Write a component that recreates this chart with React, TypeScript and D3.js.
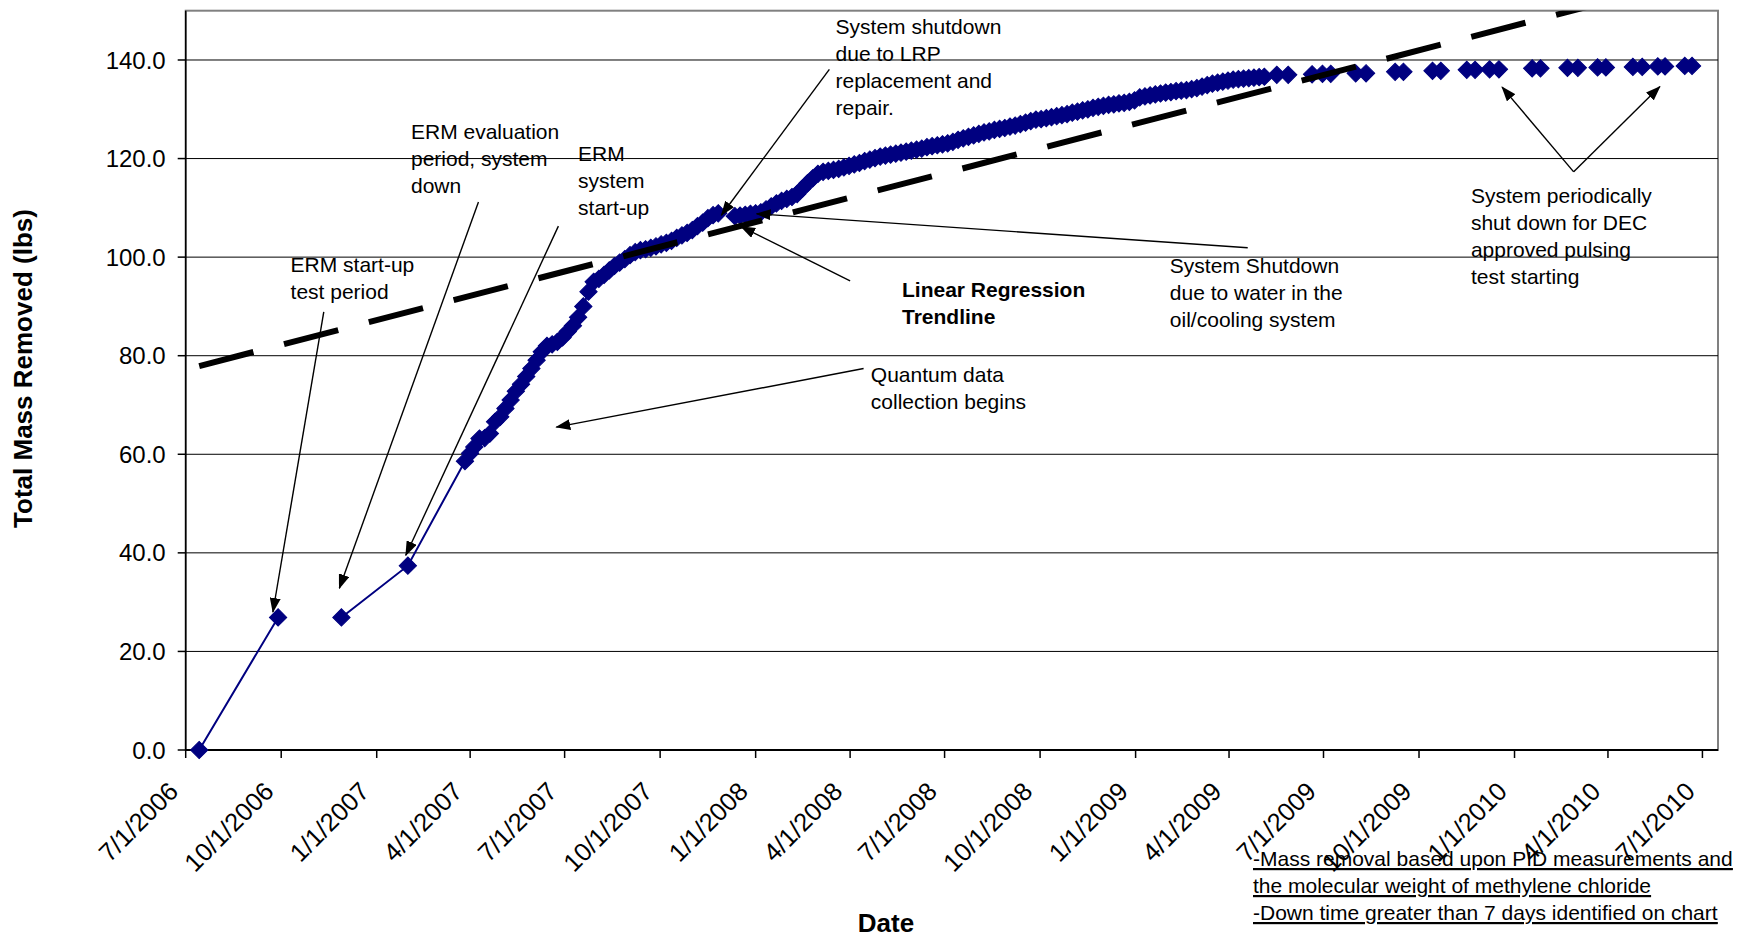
import React from "react";
import * as d3 from "d3";

const WIDTH = 1746;
const HEIGHT = 940;

// Cumulative mass removed (lbs); null = system down (gap in the series)
const massSamples: [string, number | null][] = [
  ["2006-07-14", 0.0],
  ["2006-09-28", 26.9],
  ["2006-10-28", null],
  ["2006-11-28", 26.9],
  ["2007-01-31", 37.4],
  ["2007-03-27", 58.6],
  ["2007-04-01", 60.2],
  ["2007-04-05", 61.5],
  ["2007-04-10", 63.2],
  ["2007-04-15", 63.3],
  ["2007-04-20", 64.2],
  ["2007-04-25", 66.6],
  ["2007-04-30", 67.6],
  ["2007-05-05", 69.3],
  ["2007-05-10", 71.0],
  ["2007-05-15", 72.8],
  ["2007-05-20", 74.2],
  ["2007-05-25", 75.8],
  ["2007-05-30", 77.4],
  ["2007-06-04", 79.1],
  ["2007-06-09", 80.8],
  ["2007-06-14", 82.0],
  ["2007-06-19", 82.3],
  ["2007-06-24", 82.8],
  ["2007-06-29", 83.7],
  ["2007-07-04", 84.9],
  ["2007-07-09", 86.1],
  ["2007-07-14", 87.8],
  ["2007-07-19", 90.0],
  ["2007-07-24", 93.0],
  ["2007-07-29", 95.0],
  ["2007-08-03", 95.6],
  ["2007-08-08", 96.4],
  ["2007-08-13", 97.3],
  ["2007-08-18", 98.2],
  ["2007-08-23", 98.9],
  ["2007-08-28", 99.6],
  ["2007-09-02", 100.4],
  ["2007-09-07", 101.0],
  ["2007-09-12", 101.4],
  ["2007-09-17", 101.6],
  ["2007-09-22", 101.9],
  ["2007-09-27", 102.2],
  ["2007-10-02", 102.6],
  ["2007-10-07", 102.9],
  ["2007-10-12", 103.3],
  ["2007-10-17", 103.9],
  ["2007-10-22", 104.4],
  ["2007-10-27", 104.9],
  ["2007-11-01", 105.5],
  ["2007-11-06", 106.3],
  ["2007-11-11", 107.0],
  ["2007-11-16", 107.9],
  ["2007-11-21", 108.5],
  ["2007-11-26", 108.9],
  ["2007-12-04", null],
  ["2007-12-12", 108.3],
  ["2007-12-17", 108.4],
  ["2007-12-22", 108.6],
  ["2007-12-27", 108.8],
  ["2008-01-01", 108.9],
  ["2008-01-06", 109.1],
  ["2008-01-11", 109.7],
  ["2008-01-16", 110.3],
  ["2008-01-21", 110.9],
  ["2008-01-26", 111.4],
  ["2008-01-31", 111.8],
  ["2008-02-05", 112.2],
  ["2008-02-10", 112.8],
  ["2008-02-15", 113.9],
  ["2008-02-20", 115.0],
  ["2008-02-25", 116.0],
  ["2008-03-01", 116.9],
  ["2008-03-06", 117.3],
  ["2008-03-11", 117.5],
  ["2008-03-16", 117.7],
  ["2008-03-21", 117.9],
  ["2008-03-26", 118.2],
  ["2008-03-31", 118.5],
  ["2008-04-05", 118.8],
  ["2008-04-10", 119.1],
  ["2008-04-15", 119.5],
  ["2008-04-20", 119.8],
  ["2008-04-25", 120.1],
  ["2008-04-30", 120.4],
  ["2008-05-05", 120.6],
  ["2008-05-10", 120.8],
  ["2008-05-15", 121.0],
  ["2008-05-20", 121.2],
  ["2008-05-25", 121.4],
  ["2008-05-30", 121.6],
  ["2008-06-04", 121.8],
  ["2008-06-09", 122.0],
  ["2008-06-14", 122.3],
  ["2008-06-19", 122.5],
  ["2008-06-24", 122.7],
  ["2008-06-29", 122.9],
  ["2008-07-04", 123.1],
  ["2008-07-09", 123.4],
  ["2008-07-14", 123.8],
  ["2008-07-19", 124.1],
  ["2008-07-24", 124.4],
  ["2008-07-29", 124.7],
  ["2008-08-03", 125.0],
  ["2008-08-08", 125.3],
  ["2008-08-13", 125.5],
  ["2008-08-18", 125.8],
  ["2008-08-23", 126.0],
  ["2008-08-28", 126.2],
  ["2008-09-02", 126.5],
  ["2008-09-07", 126.7],
  ["2008-09-12", 127.0],
  ["2008-09-17", 127.3],
  ["2008-09-22", 127.6],
  ["2008-09-27", 127.9],
  ["2008-10-02", 128.0],
  ["2008-10-07", 128.2],
  ["2008-10-12", 128.4],
  ["2008-10-17", 128.6],
  ["2008-10-22", 128.8],
  ["2008-10-27", 129.0],
  ["2008-11-01", 129.3],
  ["2008-11-06", 129.5],
  ["2008-11-11", 129.8],
  ["2008-11-16", 130.0],
  ["2008-11-21", 130.3],
  ["2008-11-26", 130.5],
  ["2008-12-01", 130.7],
  ["2008-12-06", 130.9],
  ["2008-12-11", 131.0],
  ["2008-12-16", 131.2],
  ["2008-12-21", 131.3],
  ["2008-12-26", 131.5],
  ["2008-12-31", 131.8],
  ["2009-01-05", 132.4],
  ["2009-01-10", 132.6],
  ["2009-01-15", 132.8],
  ["2009-01-20", 133.0],
  ["2009-01-25", 133.2],
  ["2009-01-30", 133.4],
  ["2009-02-04", 133.5],
  ["2009-02-09", 133.7],
  ["2009-02-14", 133.8],
  ["2009-02-19", 133.9],
  ["2009-02-24", 134.1],
  ["2009-03-01", 134.3],
  ["2009-03-06", 134.6],
  ["2009-03-11", 134.9],
  ["2009-03-16", 135.2],
  ["2009-03-21", 135.4],
  ["2009-03-26", 135.6],
  ["2009-03-31", 135.8],
  ["2009-04-05", 136.0],
  ["2009-04-10", 136.1],
  ["2009-04-15", 136.2],
  ["2009-04-20", 136.3],
  ["2009-04-25", 136.4],
  ["2009-04-30", 136.5],
  ["2009-05-05", 136.6],
  ["2009-05-11", null],
  ["2009-05-17", 137.0],
  ["2009-05-28", 137.0],
  ["2009-06-10", null],
  ["2009-06-20", 137.1],
  ["2009-06-30", 137.2],
  ["2009-07-08", 137.2],
  ["2009-07-20", null],
  ["2009-08-01", 137.3],
  ["2009-08-11", 137.3],
  ["2009-08-25", null],
  ["2009-09-08", 137.6],
  ["2009-09-16", 137.6],
  ["2009-09-30", null],
  ["2009-10-14", 137.8],
  ["2009-10-22", 137.8],
  ["2009-11-05", null],
  ["2009-11-16", 138.0],
  ["2009-11-24", 138.0],
  ["2009-12-01", null],
  ["2009-12-08", 138.1],
  ["2009-12-17", 138.1],
  ["2010-01-02", null],
  ["2010-01-18", 138.3],
  ["2010-01-26", 138.3],
  ["2010-02-08", null],
  ["2010-02-21", 138.4],
  ["2010-03-03", 138.4],
  ["2010-03-12", null],
  ["2010-03-22", 138.5],
  ["2010-03-30", 138.5],
  ["2010-04-12", null],
  ["2010-04-25", 138.6],
  ["2010-05-04", 138.6],
  ["2010-05-12", null],
  ["2010-05-19", 138.7],
  ["2010-05-26", 138.7],
  ["2010-06-05", null],
  ["2010-06-14", 138.8],
  ["2010-06-21", 138.8],
];

// Linear regression trendline end points
const trendDates = ["2006-07-14", "2010-06-21"];
const trendValues = [77.9, 156.3];

const xDomainLabels = ["7/1/2006", "7/16/2010"];
const xTickLabels = [
  "7/1/2006", "10/1/2006", "1/1/2007", "4/1/2007", "7/1/2007", "10/1/2007",
  "1/1/2008", "4/1/2008", "7/1/2008", "10/1/2008", "1/1/2009", "4/1/2009",
  "7/1/2009", "10/1/2009", "1/1/2010", "4/1/2010", "7/1/2010",
];
const yDomain = [0, 150];
const yTickValues = [0, 20, 40, 60, 80, 100, 120, 140];

type Pt = [string, number];
type Annotation = { lines: string[]; bold?: boolean; at: Pt; arrows: { from: Pt; to: Pt }[] };

const annotations: Annotation[] = [
  { lines: ["ERM start-up", "test period"], at: ["2006-10-10", 97.0],
    arrows: [{ from: ["2006-11-11", 88.9], to: ["2006-09-23", 28.0] }] },
  { lines: ["ERM evaluation", "period, system", "down"], at: ["2007-02-03", 123.9],
    arrows: [{ from: ["2007-04-09", 111.2], to: ["2006-11-26", 32.8] }] },
  { lines: ["ERM", "system", "start-up"], at: ["2007-07-14", 119.6],
    arrows: [{ from: ["2007-06-25", 106.3], to: ["2007-01-29", 39.5] }] },
  { lines: ["System shutdown", "due to LRP", "replacement and", "repair."], at: ["2008-03-18", 145.3],
    arrows: [{ from: ["2008-03-12", 138.1], to: ["2007-11-29", 108.5] }] },
  { lines: ["Linear Regression", "Trendline"], bold: true, at: ["2008-05-21", 92.0],
    arrows: [{ from: ["2008-04-01", 95.2], to: ["2007-12-18", 106.2] }] },
  { lines: ["System Shutdown", "due to water in the", "oil/cooling system"], at: ["2009-02-03", 96.7],
    arrows: [{ from: ["2009-04-19", 101.9], to: ["2008-01-02", 108.8] }] },
  { lines: ["Quantum data", "collection begins"], at: ["2008-04-21", 74.7],
    arrows: [{ from: ["2008-04-14", 77.4], to: ["2007-06-23", 65.5] }] },
  { lines: ["System periodically", "shut down for DEC", "approved pulsing", "test starting"], at: ["2009-11-20", 111.0],
    arrows: [
      { from: ["2010-02-27", 117.3], to: ["2009-12-20", 134.5] },
      { from: ["2010-02-27", 117.3], to: ["2010-05-21", 134.6] },
    ] },
];

const footnoteLines = [
  "-Mass removal based upon PID measurements and",
  "the molecular weight of methylene chloride",
  "-Down time greater than 7 days identified on chart",
];

const FONT = "'Liberation Sans', Arial, Helvetica, sans-serif";
const NAVY = "#000080";

export default function App() {
  const parseIso = d3.utcParse("%Y-%m-%d");
  const parseUs = d3.utcParse("%m/%d/%Y");

  const left = 185.7, right = 1718, top = 10.7, bottom = 750;

  const x = d3.scaleUtc().domain(xDomainLabels.map((s) => parseUs(s) as Date)).range([left, right]);
  const y = d3.scaleLinear().domain(yDomain).range([bottom, top]);

  const pts = massSamples.map(([d, v]) => ({ date: parseIso(d) as Date, v }));
  const line = d3
    .line<{ date: Date; v: number | null }>()
    .defined((p) => p.v !== null)
    .x((p) => x(p.date))
    .y((p) => y(p.v as number));

  const trendPts = trendDates.map((d, i) => ({ date: parseIso(d) as Date, v: trendValues[i] as number | null }));

  const diamond = d3.symbol().type(d3.symbolSquare).size(150)() as string;
  const fmtY = d3.format(".1f");
  const P = (p: Pt) => [x(parseIso(p[0]) as Date), y(p[1])];

  return (
    <svg width={WIDTH} height={HEIGHT} style={{ position: "absolute", left: 0, top: 0, display: "block", background: "#fff" }} fontFamily={FONT}>
      <defs>
        <clipPath id="plotClip">
          <rect x={left} y={top} width={right - left} height={bottom - top} />
        </clipPath>
        <marker id="arrowHead" viewBox="0 0 15 11" refX="14" refY="5.5" markerWidth="15" markerHeight="11" markerUnits="userSpaceOnUse" orient="auto">
          <path d="M0,0 L15,5.5 L0,11 z" fill="#000" />
        </marker>
      </defs>
      <rect x={0} y={0} width={WIDTH} height={HEIGHT} fill="#fff" />
      {/* plot frame */}
      <rect x={left} y={top} width={right - left} height={bottom - top} fill="#fff" stroke="#808080" strokeWidth={2} />
      {/* gridlines */}
      {yTickValues.filter((v) => v > 0).map((v) => (
        <line key={"g" + v} x1={left} x2={right} y1={y(v)} y2={y(v)} stroke="#000" strokeWidth={1} />
      ))}
      {/* axes */}
      <line x1={left} x2={left} y1={top} y2={bottom} stroke="#000" strokeWidth={1.5} />
      <line x1={left} x2={right} y1={bottom} y2={bottom} stroke="#000" strokeWidth={2} />
      {yTickValues.map((v) => (
        <g key={"y" + v}>
          <line x1={left - 8} x2={left} y1={y(v)} y2={y(v)} stroke="#000" strokeWidth={1.5} />
          <text x={left - 20} y={y(v)} dy="0.36em" textAnchor="end" fontSize={24} fill="#000">{fmtY(v)}</text>
        </g>
      ))}
      {xTickLabels.map((lab) => {
        const tx = x(parseUs(lab) as Date);
        return (
          <g key={"x" + lab}>
            <line x1={tx} x2={tx} y1={bottom} y2={bottom + 8} stroke="#000" strokeWidth={1.5} />
            <text transform={`translate(${tx - 6},${bottom + 43}) rotate(-45)`} textAnchor="end" fontSize={25.5} fill="#000">{lab}</text>
          </g>
        );
      })}
      {/* axis titles */}
      <text transform={`translate(32,368.5) rotate(-90)`} textAnchor="middle" fontSize={26} fontWeight="bold" fill="#000">Total Mass Removed (lbs)</text>
      <text x={886} y={932} textAnchor="middle" fontSize={26} fontWeight="bold" fill="#000">Date</text>

      {/* data series */}
      <path d={line(pts) || ""} fill="none" stroke={NAVY} strokeWidth={2} />
      {pts.filter((p) => p.v !== null).map((p, i) => (
        <path key={"m" + i} d={diamond} transform={`translate(${x(p.date)},${y(p.v as number)}) rotate(45)`} fill={NAVY} stroke={NAVY} strokeWidth={1} />
      ))}
      <g clipPath="url(#plotClip)">
        <path d={line(trendPts) || ""} fill="none" stroke="#000" strokeWidth={6} strokeDasharray="56 31.6" />
      </g>

      {/* annotations */}
      {annotations.map((a, i) => {
        const [ax, ay] = P(a.at);
        return (
          <g key={"a" + i}>
            {a.arrows.map((ar, j) => {
              const [x1, y1] = P(ar.from);
              const [x2, y2] = P(ar.to);
              return <line key={j} x1={x1} y1={y1} x2={x2} y2={y2} stroke="#000" strokeWidth={1.4} markerEnd="url(#arrowHead)" />;
            })}
            <text x={ax} y={ay} fontSize={21} fontWeight={a.bold ? "bold" : "normal"} fill="#000">
              {a.lines.map((l, k) => (
                <tspan key={k} x={ax} dy={k === 0 ? 0 : 27}>{l}</tspan>
              ))}
            </text>
          </g>
        );
      })}

      {/* footnote */}
      <text x={1253} y={866} fontSize={21} fill="#000" textDecoration="underline">
        {footnoteLines.map((l, k) => (
          <tspan key={k} x={1253} dy={k === 0 ? 0 : 27} textDecoration="underline">{l}</tspan>
        ))}
      </text>
    </svg>
  );
}
